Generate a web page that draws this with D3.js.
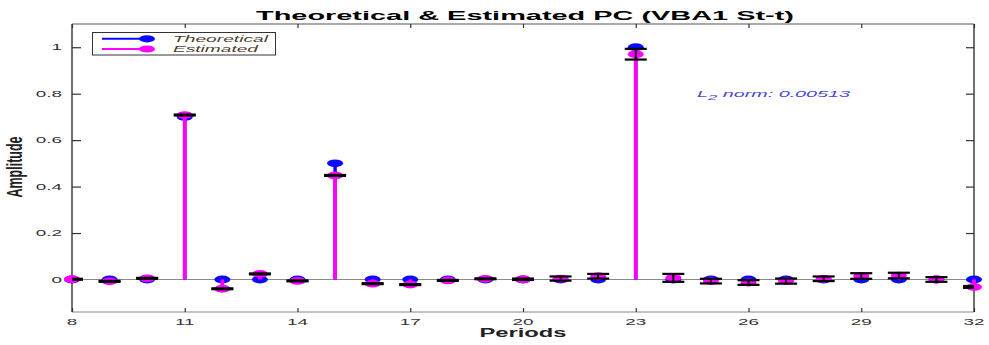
<!DOCTYPE html>
<html>
<head>
<meta charset="utf-8">
<script src="https://cdn.jsdelivr.net/npm/d3@7"></script>
<style>
  html, body { margin: 0; padding: 0; background: #fff; }
  svg { display: block; }
  text { font-family: Arial, "Liberation Sans", Helvetica, sans-serif; }
</style>
</head>
<body>
<svg id="chart" width="989" height="345"></svg>
<script>
// Periods on the x axis
const periods = [8, 9, 10, 11, 12, 13, 14, 15, 16, 17, 18, 19, 20, 21, 22, 23, 24, 25, 26, 27, 28, 29, 30, 31, 32];
// Theoretical periodicity components
const theoretical = [0, 0, 0, 0.70, 0, 0, 0, 0.50, 0, 0, 0, 0, 0, 0, 0, 1.00, 0, 0, 0, 0, 0, 0, 0, 0, 0];
// Estimated components and their error half-widths
const estimated = [0.001, -0.008, 0.005, 0.708, -0.040, 0.024, -0.006, 0.448, -0.018, -0.022, -0.004, 0.003, 0.001,
                   0.004, 0.014, 0.970, 0.007, -0.007, -0.013, -0.007, 0.003, 0.015, 0.017, 0.000, -0.032];
const errors = [0.002, 0.002, 0.002, 0.002, 0.002, 0.002, 0.002, 0.002, 0.002, 0.002, 0.002, 0.002, 0.003,
                0.009, 0.010, 0.023, 0.017, 0.010, 0.010, 0.011, 0.010, 0.012, 0.012, 0.010, 0.004];
// Axis ticks
const xTicks = [8, 11, 14, 17, 20, 23, 26, 29, 32];
const yTicks = [0, 0.2, 0.4, 0.6, 0.8, 1];
const yTickLabels = ["0", "0.2", "0.4", "0.6", "0.8", "1"];
const seriesNames = ["Theoretical", "Estimated"];
const normText = "0.00513";

const svg = d3.select("#chart");
const L = 72, R = 974, T = 24, B = 312;
const x = d3.scaleLinear().domain([8, 32]).range([L, R]);
const y = d3.scaleLinear().domain([-0.14, 1.1]).range([B, T]);

const BLUE = "#0a0aff", MAG = "#ff00ff";
const SX = 2.1; // horizontal glyph stretch for tick labels

svg.append("defs").append("clipPath").attr("id", "plotclip")
  .append("rect").attr("x", L).attr("y", T).attr("width", R - L).attr("height", B - T);

// Baseline at zero
svg.append("line").attr("x1", L).attr("x2", R).attr("y1", y(0)).attr("y2", y(0))
  .attr("stroke", "#8a8a8a").attr("stroke-width", 1.2);

// Axes frame
svg.append("line").attr("x1", L).attr("x2", R).attr("y1", T).attr("y2", T).attr("stroke", "#555").attr("stroke-width", 1.2);
svg.append("line").attr("x1", L).attr("x2", R).attr("y1", B).attr("y2", B).attr("stroke", "#888").attr("stroke-width", 1.2);
svg.append("line").attr("x1", L).attr("x2", L).attr("y1", T).attr("y2", B).attr("stroke", "#222").attr("stroke-width", 1.3);
svg.append("line").attr("x1", R).attr("x2", R).attr("y1", T).attr("y2", B).attr("stroke", "#222").attr("stroke-width", 1.3);

// Inward ticks on all four sides
const axB = d3.axisBottom(x).tickValues(xTicks).tickSize(-4).tickSizeOuter(0).tickFormat("");
const axT = d3.axisTop(x).tickValues(xTicks).tickSize(-4).tickSizeOuter(0).tickFormat("");
const axL = d3.axisLeft(y).tickValues(yTicks).tickSize(-9).tickSizeOuter(0).tickFormat("");
const axR = d3.axisRight(y).tickValues(yTicks).tickSize(-8).tickSizeOuter(0).tickFormat("");
[[axB, `translate(0,${B})`], [axT, `translate(0,${T})`], [axL, `translate(${L},0)`], [axR, `translate(${R},0)`]]
  .forEach(([ax, tr]) => {
    const g = svg.append("g").attr("transform", tr).call(ax);
    g.select(".domain").remove();
    g.selectAll(".tick line").attr("stroke", "#333").attr("stroke-width", 1.2);
  });

// Tick labels
svg.append("g").selectAll("text").data(xTicks).join("text")
  .attr("transform", d => `translate(${x(d)},324.5) scale(${SX},1)`)
  .attr("text-anchor", "middle").attr("font-size", 9).attr("fill", "#333").text(d => d);
svg.append("g").selectAll("text").data(yTicks).join("text")
  .attr("transform", d => `translate(62,${y(d) + 3.2}) scale(${SX},1)`)
  .attr("text-anchor", "end").attr("font-size", 9).attr("fill", "#333").text((d, i) => yTickLabels[i]);

// Theoretical stems
const gT = svg.append("g");
gT.selectAll("line").data(periods).join("line")
  .attr("x1", d => x(d)).attr("x2", d => x(d))
  .attr("y1", y(0)).attr("y2", (d, i) => y(theoretical[i]))
  .attr("stroke", BLUE).attr("stroke-width", 3.5);
gT.selectAll("ellipse").data(periods).join("ellipse")
  .attr("cx", d => x(d)).attr("cy", (d, i) => y(theoretical[i]))
  .attr("rx", 8).attr("ry", 3.9).attr("fill", BLUE);

// Estimated stems
const gE = svg.append("g");
gE.selectAll("line").data(periods).join("line")
  .attr("x1", d => x(d)).attr("x2", d => x(d))
  .attr("y1", y(0)).attr("y2", (d, i) => y(estimated[i]))
  .attr("stroke", MAG).attr("stroke-width", 3.8);
gE.selectAll("ellipse").data(periods).join("ellipse")
  .attr("cx", d => x(d)).attr("cy", (d, i) => y(estimated[i]))
  .attr("rx", 8).attr("ry", 3.9).attr("fill", MAG);

// Error bars around the estimates
const gErr = svg.append("g").attr("clip-path", "url(#plotclip)");
const eb = gErr.selectAll("g").data(periods).join("g");
eb.append("line")
  .attr("x1", d => x(d)).attr("x2", d => x(d))
  .attr("y1", (d, i) => y(estimated[i] - errors[i])).attr("y2", (d, i) => y(estimated[i] + errors[i]))
  .attr("stroke", "#000").attr("stroke-width", 2);
[-1, 1].forEach(s => {
  eb.append("line")
    .attr("x1", d => x(d) - 11).attr("x2", d => x(d) + 11)
    .attr("y1", (d, i) => y(estimated[i] + s * errors[i])).attr("y2", (d, i) => y(estimated[i] + s * errors[i]))
    .attr("stroke", "#000").attr("stroke-width", 2.2);
});

// Title and axis labels
svg.append("text").attr("x", 525).attr("y", 20).attr("text-anchor", "middle")
  .attr("font-size", 13.5).attr("font-weight", "bold").attr("fill", "#000")
  .attr("textLength", 538).attr("lengthAdjust", "spacingAndGlyphs")
  .text("Theoretical & Estimated PC (VBA1 St-t)");
svg.append("text").attr("x", 523).attr("y", 336.5).attr("text-anchor", "middle")
  .attr("font-size", 13).attr("font-weight", "bold").attr("fill", "#222")
  .attr("textLength", 87).attr("lengthAdjust", "spacingAndGlyphs")
  .text("Periods");
svg.append("text")
  .attr("transform", "translate(22,167) scale(1.7,1) rotate(-90)")
  .attr("text-anchor", "middle").attr("font-size", 12.5).attr("font-weight", "bold").attr("fill", "#222")
  .text("Amplitude");

// L2 norm annotation
const ann = svg.append("text").attr("x", 697).attr("y", 97).attr("font-size", 9.5).attr("font-style", "italic")
  .attr("fill", "#4646d8").attr("textLength", 153).attr("lengthAdjust", "spacingAndGlyphs");
ann.append("tspan").text("L");
ann.append("tspan").attr("dy", 3).attr("font-size", 8).text("2");
ann.append("tspan").attr("dy", -3).text(" norm: " + normText);

// Legend
const lg = svg.append("g");
lg.append("rect").attr("x", 92.5).attr("y", 32.5).attr("width", 183).attr("height", 22.5)
  .attr("fill", "#fff").attr("stroke", "#333").attr("stroke-width", 1);
const legendColors = [BLUE, MAG];
const legendY = [38.8, 49];
const legendW = [95, 85];
seriesNames.forEach((name, i) => {
  lg.append("line").attr("x1", 102).attr("x2", 147).attr("y1", legendY[i]).attr("y2", legendY[i])
    .attr("stroke", legendColors[i]).attr("stroke-width", 2);
  lg.append("ellipse").attr("cx", 147).attr("cy", legendY[i]).attr("rx", 8).attr("ry", 3.6)
    .attr("fill", legendColors[i]);
  lg.append("text").attr("x", 173).attr("y", legendY[i] + 3.3).attr("font-size", 8.6).attr("font-style", "italic")
    .attr("fill", "#4d3d2d").attr("textLength", legendW[i]).attr("lengthAdjust", "spacingAndGlyphs").text(name);
});
</script>
</body>
</html>
